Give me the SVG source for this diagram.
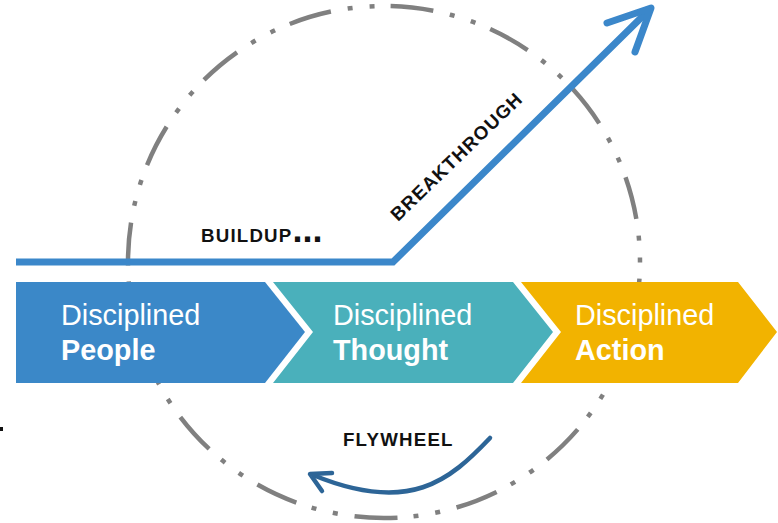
<svg xmlns="http://www.w3.org/2000/svg" width="778" height="523" viewBox="0 0 778 523">
<style>
.lbl{font-family:"Liberation Sans",Arial,sans-serif;font-weight:bold;fill:#111;font-size:18.7px;letter-spacing:1.2px;}
.ct{font-family:"Liberation Sans",Arial,sans-serif;fill:#fff;font-size:28.8px;}
.b{font-weight:bold;}
</style>
<rect width="778" height="523" fill="#fff"/>
<g id="cycle">
<circle cx="384" cy="262" r="256" fill="none" stroke="#808080" stroke-width="4.5" stroke-dasharray="43 17 5 17 5 16" stroke-dashoffset="90.6" transform="rotate(15 384 262)"/>
</g>
<g id="connectors">
<polyline id="breakthrough-line" points="16,262 393,262 650,9" fill="none" stroke="#3B87CA" stroke-width="7"/>
<polyline points="607,23 651,8 635,52" fill="none" stroke="#3B87CA" stroke-width="7" stroke-linecap="round" stroke-linejoin="round"/>
<path id="flywheel-arrow" d="M490,438 C450,480 410,515 313,475" fill="none" stroke="#2D6597" stroke-width="4.5" stroke-linecap="round"/>
<polyline points="332,473 310,474 322,491" fill="none" stroke="#2D6597" stroke-width="4.5" stroke-linecap="round" stroke-linejoin="round"/>
</g>
<g id="people">
<path d="M16,282 H265 L305,332 L265,383 H16 Z" fill="#3B88C8"/>
<text class="ct" x="61" y="325">Disciplined</text>
<text class="ct b" x="61" y="360">People</text>
</g>
<g id="thought">
<path d="M273,282 H513 L553,332 L513,383 H273 L313,332 Z" fill="#4AB0BB"/>
<text class="ct" x="333" y="325">Disciplined</text>
<text class="ct b" x="333" y="360">Thought</text>
</g>
<g id="action">
<path d="M521,282 H738 L777,332 L738,383 H521 L561,332 Z" fill="#F2B300"/>
<text class="ct" x="575" y="325">Disciplined</text>
<text class="ct b" x="575" y="360">Action</text>
</g>
<g id="labels">
<text class="lbl" x="201" y="242">BUILDUP<tspan font-size="36" letter-spacing="0">...</tspan></text>
<text class="lbl" x="0" y="0" transform="translate(398,222) rotate(-44)">BREAKTHROUGH</text>
<text class="lbl" x="343" y="446">FLYWHEEL</text>
</g>
<rect x="0" y="427" width="3" height="4" fill="#111"/>
</svg>
